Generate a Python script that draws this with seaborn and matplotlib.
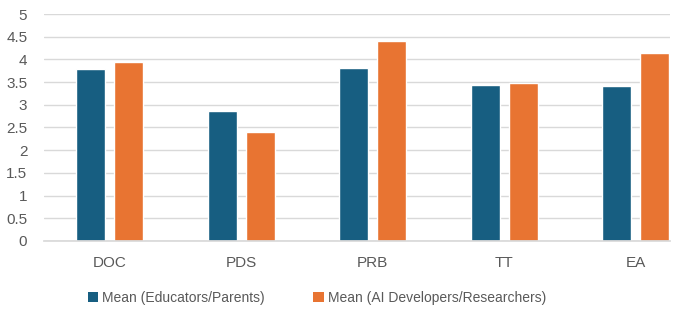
import matplotlib
matplotlib.use("Agg")
import matplotlib.pyplot as plt
import seaborn as sns
import pandas as pd
from matplotlib.patches import Patch

categories = ["DOC", "PDS", "PRB", "TT", "EA"]
educators = [3.79, 2.86, 3.82, 3.44, 3.42]
developers = [3.95, 2.39, 4.40, 3.48, 4.13]
series_names = ["Mean (Educators/Parents)", "Mean (AI Developers/Researchers)"]
yticks = [0, 0.5, 1, 1.5, 2, 2.5, 3, 3.5, 4, 4.5, 5]

colors = ["#175E81", "#E87432"]

df = pd.DataFrame({
    "cat": categories * 2,
    "val": educators + developers,
    "series": [series_names[0]] * len(categories) + [series_names[1]] * len(categories),
})

sns.set_theme(style="white")
plt.rcParams['font.family'] = ['Liberation Sans', 'DejaVu Sans']

fig = plt.figure(figsize=(6.84, 3.13), dpi=100)
ax = fig.add_axes([44/684, 72/313, (670-44)/684, (241-14)/313])

sns.barplot(data=df, x="cat", y="val", hue="series", palette=colors,
            width=0.58, gap=0.24, ax=ax, legend=False, saturation=1)

ax.set_ylim(0, 5)
ax.set_xlim(-0.5, 4.26)
ax.set_yticks(yticks)
ax.set_yticklabels([f"{t:g}" for t in yticks])
ax.yaxis.grid(True, color="#D9D9D9", linewidth=1)
ax.set_axisbelow(True)
for s in ["top", "right", "left"]:
    ax.spines[s].set_visible(False)
ax.spines["bottom"].set_color("#D9D9D9")
ax.set_xlabel("")
ax.set_ylabel("")
ax.tick_params(axis="y", labelsize=11, colors="#595959", length=0, pad=12)
ax.tick_params(axis="x", labelsize=11, colors="#595959", length=0, pad=11)

handles = [Patch(facecolor=c, edgecolor="none") for c in colors]
fig.legend(handles, series_names, loc="center", bbox_to_anchor=(317/684, 1 - 298/313),
           ncol=2, frameon=False, fontsize=10, labelcolor="#595959",
           handlelength=0.75, handleheight=0.75, handletextpad=0.3, columnspacing=3.5)

fig.savefig("out.png", dpi=100)
